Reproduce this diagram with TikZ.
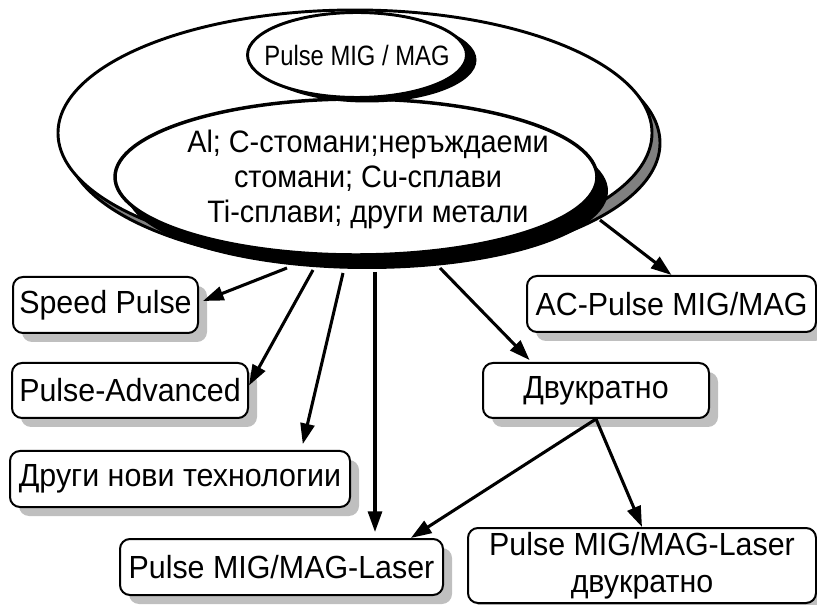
\documentclass[tikz,border=0pt]{standalone}
\usepackage{fontspec}
\setmainfont{Liberation Sans}
\newfontfamily\boxfont[FakeStretch=0.95]{Liberation Sans}
\newfontfamily\matfont[FakeStretch=0.93]{Liberation Sans}
\newfontfamily\titlefont[FakeStretch=0.85]{Liberation Sans}
\usetikzlibrary{shapes.geometric,arrows.meta,shadows,calc}

\begin{document}
\begin{tikzpicture}[x=0.75pt,y=-0.75pt,
  box/.style={draw, line width=1.5pt, rounded corners=7.5pt, fill=white,
    inner sep=0pt, align=center, font=\boxfont\fontsize{24}{28}\selectfont,
    drop shadow={shadow xshift=6.75pt, shadow yshift=-6.75pt,
      fill=black!25, opacity=1}},
  oval/.style={ellipse, draw, fill=white, inner sep=0pt, line width=2.2pt},
  arr/.style={line width=2.3pt, -{Triangle[length=15.5pt,width=10.5pt]}}]

\useasboundingbox (0,0) rectangle (817,605);

% outer ellipse with a grey shadow
\node[oval, minimum width=445.5pt, minimum height=184.5pt,
  general shadow={shadow xshift=6pt, shadow yshift=-7.5pt,
    fill=black!50, draw=black, line width=2.2pt}] (outer) at (355,133) {};

% materials ellipse with a solid black shadow
\node[oval, line width=2.6pt, minimum width=361.5pt, minimum height=117pt,
  general shadow={shadow xshift=8.25pt, shadow yshift=-10.5pt,
    fill=black}] (inner) at (356,177) {};
\node[align=center, font=\matfont\fontsize{23.25}{26.25}\selectfont] (mat) at (368,179)
  {Al; C-стомани;неръждаеми\\стомани; Cu-сплави\\Ti-сплави; други метали};

% title ellipse
\node[oval, minimum width=164.25pt, minimum height=63.75pt,
  general shadow={shadow xshift=7.5pt, shadow yshift=-3.75pt,
    fill=black}] (title) at (357,55) {};
\node[font=\titlefont\fontsize{21}{24}\selectfont] (titletext) at (title.center) {Pulse MIG / MAG};

% process boxes
\node[box, minimum width=138.75pt, minimum height=42pt] (sp) at (105.5,305) {Speed Pulse};
\node[box, minimum width=177pt, minimum height=41.25pt] (adv) at (130,390.5) {Pulse-Advanced};
\node[box, minimum width=255pt, minimum height=42pt] (ot) at (180,479) {Други нови технологии};
\node[box, minimum width=242.25pt, minimum height=42pt] (ls) at (281.5,567) {Pulse MIG/MAG-Laser};
\node[box, minimum width=216.75pt, minimum height=42pt] (ac) at (671.5,304) {AC-Pulse MIG/MAG};
\node[box, minimum width=169.5pt, minimum height=41.25pt] (dv) at (596,390.5) {Двукратно};
\node[box, minimum width=261pt, minimum height=56.25pt] (ld) at (642,565.5) {Pulse MIG/MAG-Laser\\двукратно};

% arrow start points on the ellipses
\coordinate (s1) at (287,268);
\coordinate (s2) at (313,270);
\coordinate (s3) at (343,273);
\coordinate (s4) at (375,272);
\coordinate (s5) at (440,268);
\coordinate (s6) at (600,220);

% connectors
\draw[arr] (s1) -- ([xshift=3pt,yshift=3pt]sp.east);
\draw[arr] (s2) -- ([yshift=3.75pt]adv.east);
\draw[arr, shorten >=4.5pt] (s3) -- ($(ot.north west)!0.855!(ot.north east)$);
\draw[arr, shorten >=4.5pt] (s4) -- (ls.north -| s4);
\draw[arr, shorten >=2pt] (s5) -- ($(dv.north west)!0.217!(dv.north east)$);
\draw[arr] (s6) -- (ac.north);
\draw[arr] (dv.south) -- ($(ls.north west)!0.898!(ls.north east)$);
\draw[arr] (dv.south) -- (ld.north);

\end{tikzpicture}
\end{document}
